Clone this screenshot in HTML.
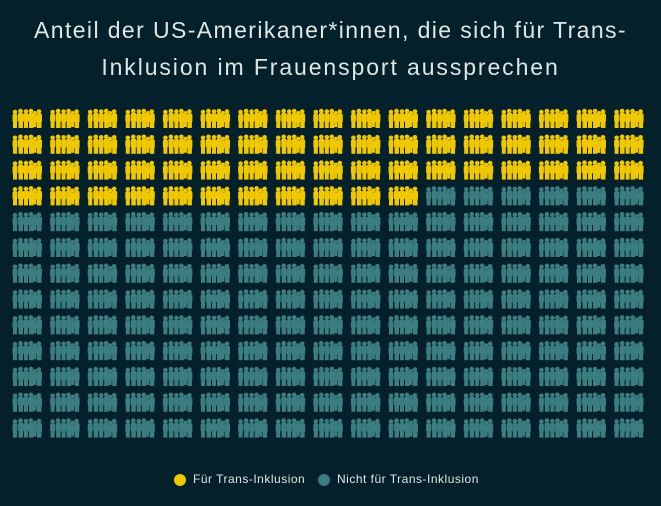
<!DOCTYPE html>
<html><head><meta charset="utf-8"><style>
body{margin:0;width:661px;height:506px;background:#04202a;overflow:hidden;font-family:"Liberation Sans",sans-serif}
.t{position:absolute;left:0;width:661px;text-align:center;color:#dfe7e6;font-size:23px;letter-spacing:1.4px}
.lg{position:absolute;top:472px;font-size:12px;color:#dfe7e6;letter-spacing:0.5px}
.d{position:absolute;top:474px;width:12px;height:12px;border-radius:50%}
</style></head><body>
<div class="t" style="top:17px">Anteil der US-Amerikaner*innen, die sich für Trans-</div>
<div class="t" style="top:54px;letter-spacing:1.9px">Inklusion im Frauensport aussprechen</div>
<svg width="661" height="506" style="position:absolute;left:0;top:0">
<defs><symbol id="p" viewBox="0 0 32 21" width="32" height="21">
<g>
<circle cx="4" cy="4" r="2.3"/><rect x="1.5" y="6" width="5" height="8" rx="1.5"/><rect x="2" y="13" width="4" height="7"/>
<circle cx="9.5" cy="3" r="2.3"/><rect x="7" y="5" width="5.5" height="9" rx="1.5"/><rect x="7.5" y="13" width="4.5" height="7"/>
<circle cx="15" cy="3.5" r="2.3"/><rect x="12.5" y="5.5" width="5" height="9" rx="1.5"/><rect x="13" y="13" width="4" height="7"/>
<circle cx="20" cy="3" r="2.3"/><rect x="17.5" y="5" width="5.5" height="9" rx="1.5"/><rect x="18" y="13" width="4.5" height="7"/>
<circle cx="28" cy="3.5" r="2.3"/><rect x="25.5" y="5.5" width="5.5" height="9" rx="1.5"/><rect x="26" y="13" width="4.5" height="7"/>
<circle cx="24" cy="5" r="2"/><rect x="22" y="7" width="4" height="7"/><rect x="22.5" y="13" width="3" height="6"/>
</g></symbol></defs>
<g id="g"></g>
</svg>
<script>
var g=document.getElementById('g'),s='';
for(var r=0;r<13;r++)for(var c=0;c<17;c++){var i=r*17+c;
s+='<use href="#p" x="'+(11+c*37.6).toFixed(1)+'" y="'+(108+r*25.8).toFixed(1)+'" fill="'+(i<62?'#f0c800':'#3b7d80')+'"/>';}
g.innerHTML=s;
</script>
<div class="d" style="left:174px;background:#f0c800"></div><div class="lg" style="left:193px">Für Trans-Inklusion</div>
<div class="d" style="left:318px;background:#3b7d80"></div><div class="lg" style="left:337px">Nicht für Trans-Inklusion</div>
</body></html>
